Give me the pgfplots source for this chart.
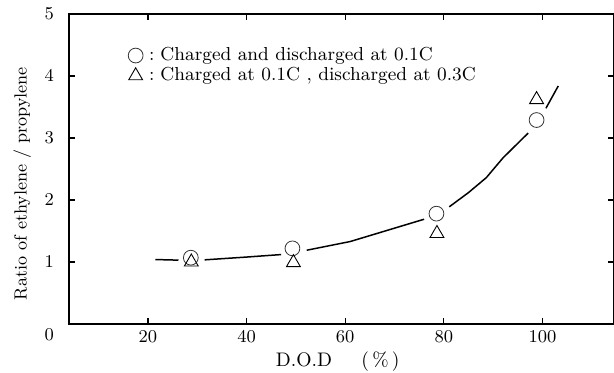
\documentclass[border=0pt]{standalone}
\usepackage{pgfplots}
\pgfplotsset{compat=1.18}
\begin{document}
\begin{tikzpicture}
\useasboundingbox (-34.5pt,-24pt) rectangle (272.5pt,162pt);
\begin{axis}[
  scale only axis,
  width=272.5pt, height=155pt,
  xmin=4, xmax=114.5, ymin=0, ymax=5,
  xtick={20,40,60,80,100},
  ytick={1,2,3,4,5},
  extra y ticks={0},
  extra y tick style={major tick length=0pt, yticklabel style={yshift=-5.5pt}},
  tick align=inside,
  major tick length=3pt,
  xtick pos=both, ytick pos=both,
  axis line style={line width=0.7pt},
  tick style={line width=0.6pt, black},
  tick label style={font=\fontsize{9.5}{10}\selectfont},
  yticklabel style={xshift=-4pt},
  xlabel={D.O.D\hspace{1.5em}(\,\%\,)},
  ylabel={Ratio of ethylene / propylene},
  ylabel style={font=\fontsize{8.8}{10}\selectfont},
  xlabel style={font=\fontsize{9.8}{10}\selectfont},
  xlabel style={at={(axis description cs:0.493,-0.122)}, anchor=center},
  ylabel style={at={(axis description cs:-0.086,0.453)}, anchor=center, rotate=0},
  unbounded coords=jump,
  legend style={at={(axis description cs:0.108,0.9)}, anchor=north west, draw=none, fill=none,
    font=\fontsize{9.4}{10}\selectfont, row sep=0pt, inner sep=0pt,
    nodes={inner sep=1pt}},
  legend cell align=left,
  legend image code/.code={\draw[#1] plot coordinates {(0.3cm,0cm)};},
]
\addplot[black, line width=0.75pt, no markers, forget plot] coordinates {
 (21.5,1.04) (26.2,1.03) (nan,nan)
 (31.5,1.035) (40,1.08) (47,1.12) (nan,nan)
 (52.2,1.19) (61,1.33) (66,1.45) (71,1.57) (76,1.69) (nan,nan)
 (81.1,1.89) (85,2.12) (88.6,2.36) (92,2.68) (97.1,3.08) (nan,nan)
 (100.7,3.48) (103.2,3.84)
};
\addplot[only marks, mark=o, mark size=3.7pt, mark options={black!80, line width=0.4pt}] coordinates {
 (28.7,1.07) (49.3,1.22) (78.5,1.78) (98.8,3.29)
};
\addlegendentry{\hspace*{2pt}:\hspace{3pt}Charged and discharged at 0.1C}
\addplot[only marks, mark=triangle, mark size=4pt, mark options={black, line width=0.45pt}] coordinates {
 (28.8,1.0) (49.5,0.99) (78.6,1.46) (98.8,3.62)
};
\addlegendentry{\hspace*{2pt}:\hspace{3pt}Charged at 0.1C , discharged at 0.3C}
\end{axis}
\end{tikzpicture}
\end{document}
